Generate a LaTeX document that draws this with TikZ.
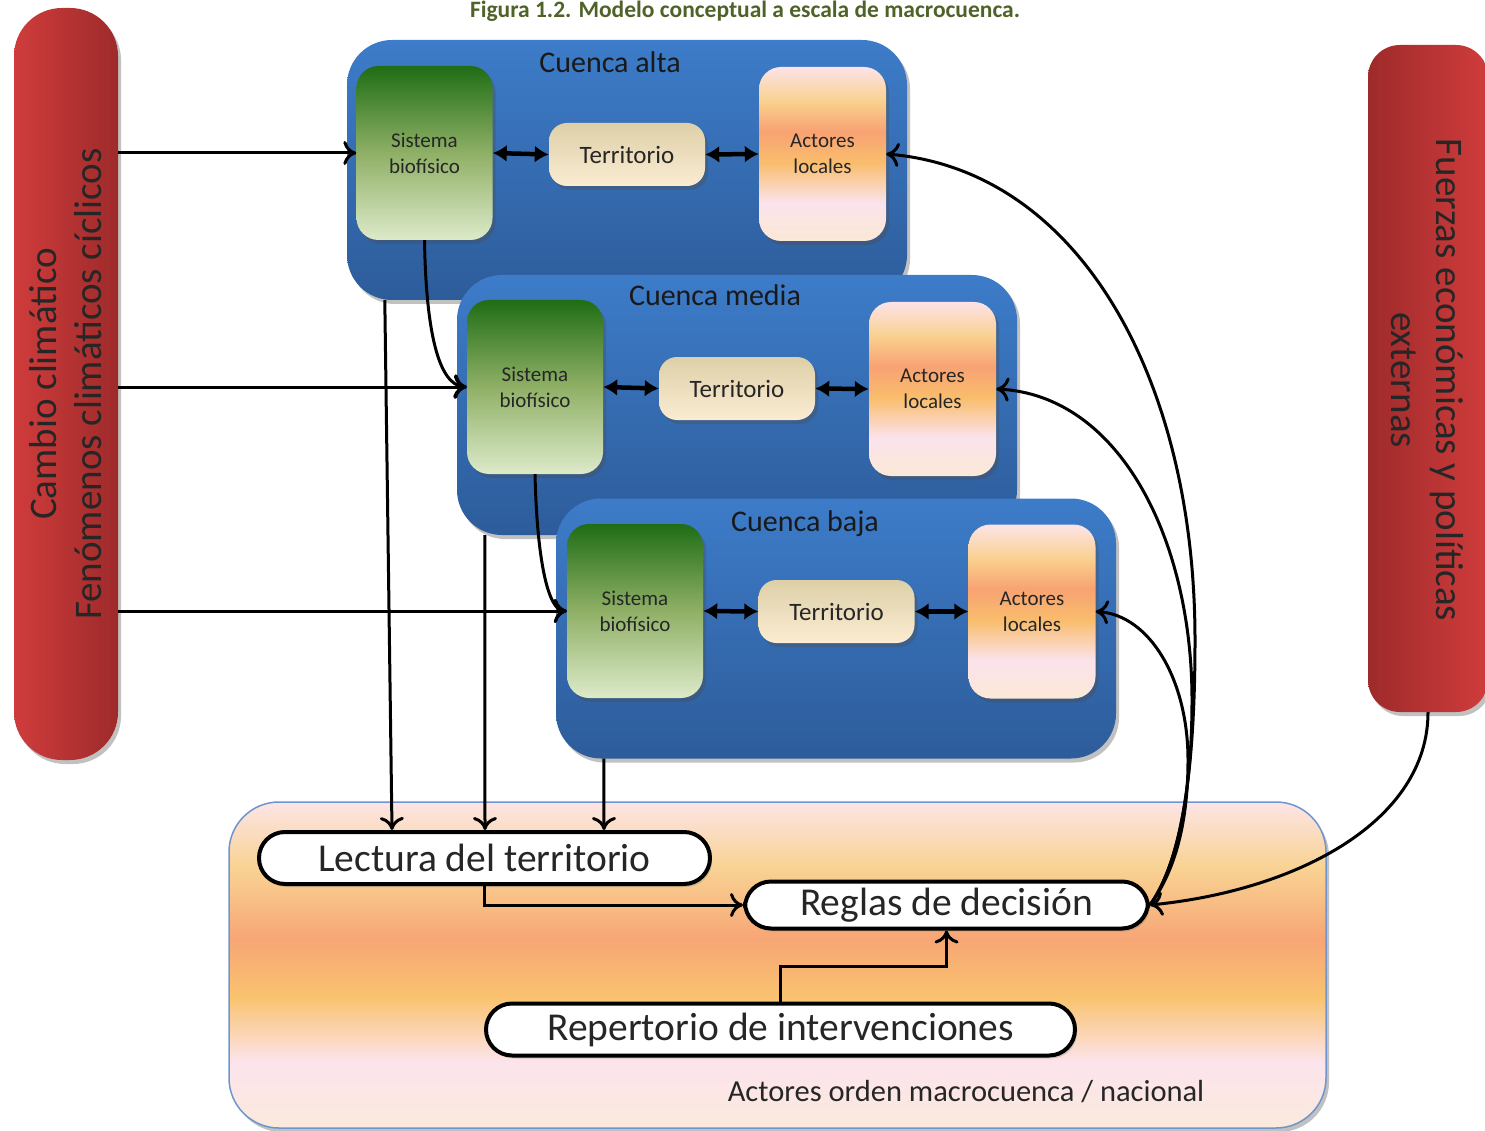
\documentclass[tikz,border=0pt]{standalone}
\usepackage{fontspec}
\setmainfont{Carlito}
\usepackage{tikz}
\usetikzlibrary{arrows.meta,positioning,calc,shadows}

\definecolor{azulTop}{HTML}{3D7CC9}
\definecolor{azulBot}{HTML}{2D5C9A}
\definecolor{verdeTop}{HTML}{1F6D15}
\definecolor{verdeMid}{HTML}{8FB066}
\definecolor{verdeBot}{HTML}{DDEAC9}
\definecolor{terTop}{HTML}{DDD0A8}
\definecolor{terBot}{HTML}{FBECD2}
\definecolor{rojoClaro}{HTML}{D03C3C}
\definecolor{rojoOscuro}{HTML}{9E2A2A}
\definecolor{actA}{HTML}{FDE3E8}
\definecolor{actB}{HTML}{F9D08E}
\definecolor{actC}{HTML}{F8A273}
\definecolor{actD}{HTML}{F9BD6C}
\definecolor{actE}{HTML}{FBE3EC}
\definecolor{actF}{HTML}{FBE8D6}
\definecolor{macA}{HTML}{FDE4E6}
\definecolor{macB}{HTML}{F8D393}
\definecolor{macC}{HTML}{F7A675}
\definecolor{macD}{HTML}{F9C36F}
\definecolor{macE}{HTML}{FCE4EC}
\definecolor{macF}{HTML}{FBE9DC}
\definecolor{bordeMac}{HTML}{6F95CF}
\definecolor{tituloVerde}{HTML}{4F6228}

\pgfdeclareverticalshading{actoresShade}{100bp}{color(0bp)=(actF); color(25bp)=(actF); color(36bp)=(actE); color(47.5bp)=(actD); color(56.5bp)=(actC); color(65bp)=(actB); color(75bp)=(actA); color(100bp)=(actA)}
\pgfdeclareverticalshading{macroShade}{100bp}{color(0bp)=(macF); color(25bp)=(macF); color(35bp)=(macE); color(45bp)=(macD); color(54bp)=(macC); color(65bp)=(macB); color(75bp)=(macA); color(100bp)=(macA)}

\tikzset{
  sombra/.style={drop shadow={shadow xshift=3pt,shadow yshift=-4pt,opacity=0.35,fill=black!70}},
  barra/.style={rounded corners=48pt, inner sep=0pt, sombra},
  bartext/.style={align=center, font=\fontsize{39}{45}\selectfont, text=black!85},
  cuenca/.style={rounded corners=45pt, top color=azulTop, bottom color=azulBot, minimum width=560pt, minimum height=260pt, inner sep=0pt, sombra},
  cuencatit/.style={font=\fontsize{30}{36}\selectfont, text=black!90},
  sistema/.style={rounded corners=22pt, top color=verdeTop, bottom color=verdeBot, middle color=verdeMid, minimum width=136pt, minimum height=174pt, inner sep=0pt, align=center, font=\fontsize{21}{26}\selectfont, text=black!85, sombra},
  territorio/.style={rounded corners=18pt, top color=terTop, bottom color=terBot, minimum width=156pt, minimum height=63pt, inner sep=0pt, font=\fontsize{25}{30}\selectfont, text=black!85, sombra},
  actores/.style={rounded corners=22pt, shade, shading=actoresShade, minimum width=127pt, minimum height=174pt, inner sep=0pt, align=center, font=\fontsize{21}{26}\selectfont, text=black!85, sombra},
  caja/.style={draw=black, line width=4pt, fill=white, rounded corners=26pt, inner sep=0pt, font=\fontsize{39.5}{46}\selectfont, text=black!85, drop shadow={shadow xshift=2pt,shadow yshift=-3pt,opacity=0.3}},
  flecha/.style={line width=3pt, -{To[length=13pt,width=24pt]}},
  doble/.style={line width=4.5pt, {Latex[length=14pt,width=17pt]}-{Latex[length=14pt,width=17pt]}}
}

\begin{document}
\begin{tikzpicture}[x=1pt,y=-1pt]
	\useasboundingbox (0,0) rectangle (1485,1131);
	\node[font=\bfseries\fontsize{23.5}{28}\selectfont, text=tituloVerde, anchor=base] (titulo) at (745,18) {Figura 1.2. Modelo conceptual a escala de macrocuenca.};

	% barras laterales
	\node[barra, left color=rojoClaro, right color=rojoOscuro, minimum width=104pt, minimum height=752pt] (clima) at (66,384) {};
	\node[bartext, rotate=90] (climaTxt) at (clima.center) {Cambio climático\\Fenómenos climáticos cíclicos};
	\node[barra, rounded corners=32pt, left color=rojoOscuro, right color=rojoClaro, minimum width=120pt, minimum height=667pt] (fuerzas) at (1428,378.5) {};
	\node[bartext, rotate=-90] (fuerzasTxt) at (1427,380) {Fuerzas económicas y políticas\\externas};

	% caja inferior
	\node[shade, shading=macroShade, draw=bordeMac, line width=1.5pt, rounded corners=50pt, minimum width=1097pt, minimum height=326pt, sombra] (macro) at (777.5,965) {};
	\node[font=\fontsize{30.5}{36}\selectfont, text=black!85] (macroTxt) at (966,1092) {Actores orden macrocuenca / nacional};
	\node[caja, minimum width=451pt, minimum height=52pt] (lectura) at (484.5,858) {Lectura del territorio};
	\node[caja, minimum width=403pt, minimum height=47pt] (reglas) at (946.5,905) {Reglas de decisión};
	\node[caja, minimum width=589pt, minimum height=52pt] (repert) at (780.5,1029.5) {Repertorio de intervenciones};

	% cuencas
	\node[cuenca] (alta) at (627,170) {};
	\node[cuencatit] (tAlta) at ([xshift=-17pt,yshift=-22pt]alta.north) {Cuenca alta};
	\node[sistema] (sisAlta) at (424.5,153) {Sistema\\biofísico};
	\node[territorio] (terAlta) at (627,154.5) {Territorio};
	\node[actores] (actAlta) at (822.5,154) {Actores\\locales};

	\node[cuenca] (media) at (737,405) {};
	\node[cuencatit] (tMedia) at ([xshift=-22pt,yshift=-20pt]media.north) {Cuenca media};
	\node[sistema] (sisMedia) at (535,387) {Sistema\\biofísico};
	\node[territorio] (terMedia) at (737,388.5) {Territorio};
	\node[actores] (actMedia) at (932.5,389) {Actores\\locales};

	\node[cuenca] (baja) at (836,628.5) {};
	\node[cuencatit] (tBaja) at ([xshift=-31pt,yshift=-25pt]baja.north) {Cuenca baja};
	\node[sistema] (sisBaja) at (635,611) {Sistema\\biofísico};
	\node[territorio] (terBaja) at (836.5,611.5) {Territorio};
	\node[actores] (actBaja) at (1032,611.5) {Actores\\locales};

	% conexiones
	\foreach \c in {Alta,Media,Baja} {
		\draw[doble] (sis\c.east) -- (ter\c.west);
		\draw[doble] (ter\c.east) -- (act\c.west);
	}
	\draw[flecha] (clima.east |- sisAlta.west) -- (sisAlta.west);
	\draw[flecha] (clima.east |- sisMedia.west) -- (sisMedia.west);
	\draw[flecha] (clima.east |- sisBaja.west) -- (sisBaja.west);
	\draw[flecha] (sisAlta.south) .. controls (426,330) and (438,385) .. (sisMedia.west);
	\draw[flecha] (sisMedia.south) .. controls (537,560) and (548,611) .. (sisBaja.west);

	\draw[flecha] ([xshift=38pt]alta.south west) -- ([xshift=135pt]lectura.north west);
	\draw[flecha] ([xshift=28pt]media.south west) -- ([xshift=228pt]lectura.north west);
	\draw[flecha] ([xshift=48pt]baja.south west) -- ([xshift=347pt]lectura.north west);
	\draw[flecha] (lectura.south) |- (reglas.west);
	\draw[flecha] (repert.north) -- ++(0,-35) -| (reglas.south);

	\draw[flecha,{To[length=13pt,width=24pt]}-] (actAlta.east) .. controls (1080,170) and (1195,380) .. (1195,640) .. controls (1195,800) and (1175,870) .. (reglas.east);
	\draw[flecha,{To[length=13pt,width=24pt]}-] (actMedia.east) .. controls (1120,395) and (1192,540) .. (1192,700) .. controls (1192,800) and (1175,870) .. (reglas.east);
	\draw[flecha,{To[length=13pt,width=24pt]}-] (actBaja.east) .. controls (1150,615) and (1188,680) .. (1188,760) .. controls (1188,830) and (1172,875) .. (reglas.east);
	\draw[flecha] (fuerzas.south) .. controls (1428,820) and (1300,890) .. (reglas.east);
\end{tikzpicture}
\end{document}
